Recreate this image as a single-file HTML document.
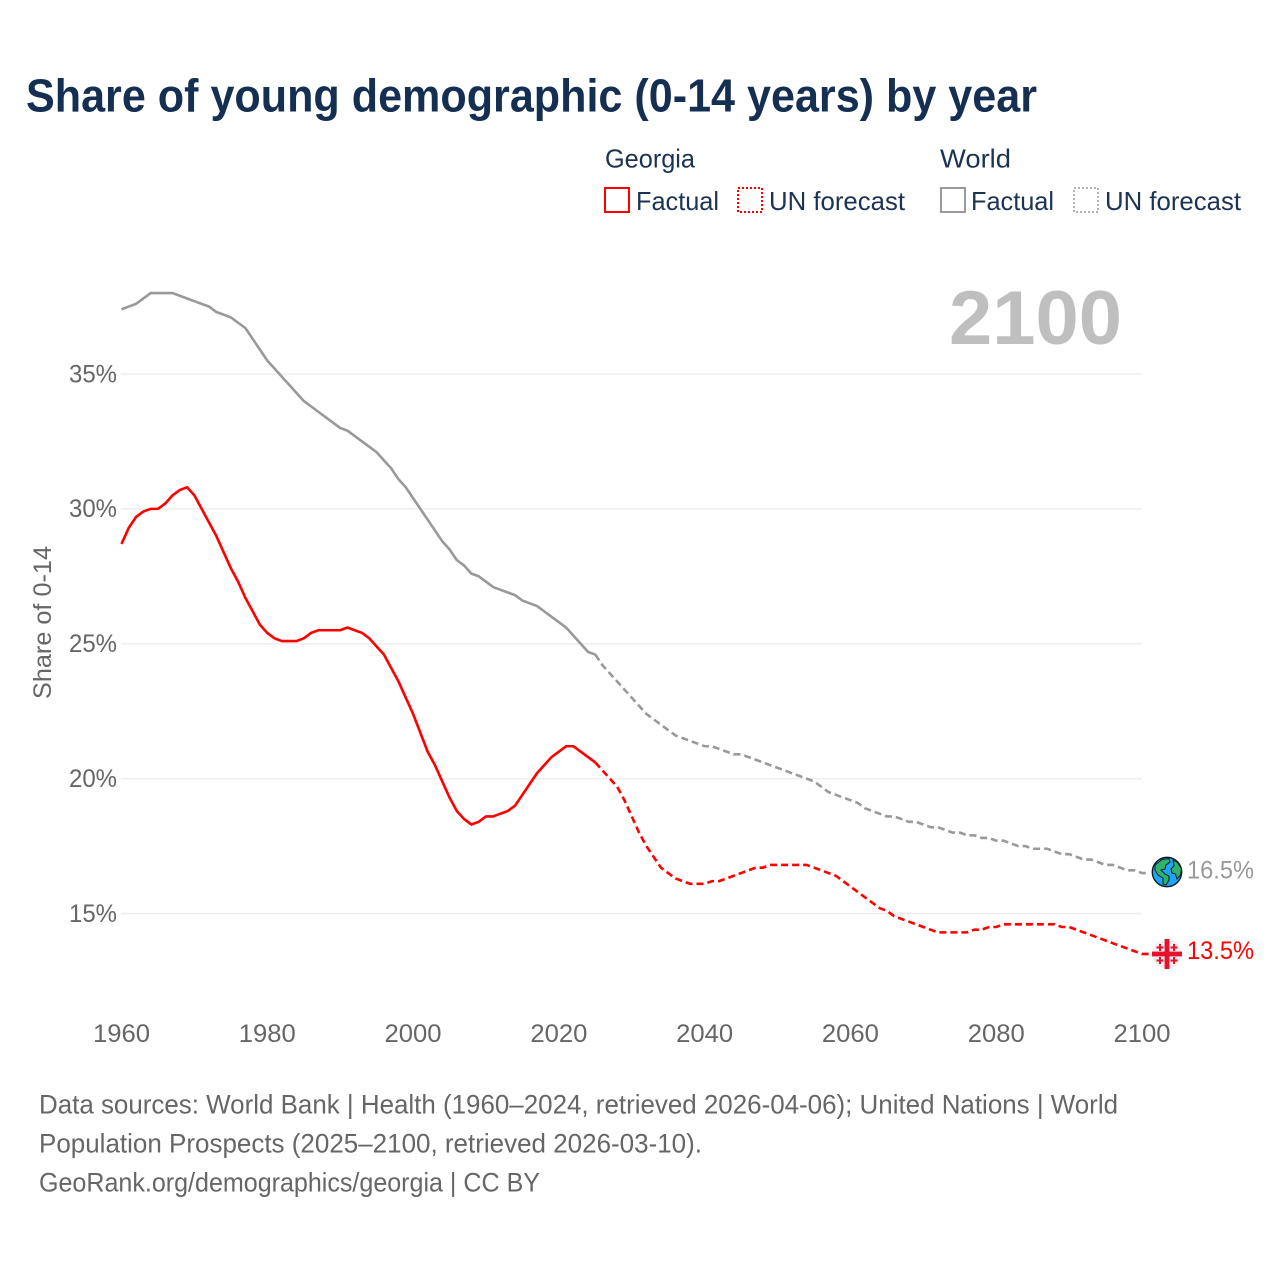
<!DOCTYPE html>
<html lang="en">
<head>
<meta charset="utf-8">
<title>Share of young demographic (0-14 years) by year</title>
<style>
html,body{margin:0;padding:0;background:#fff;width:1280px;height:1280px;overflow:hidden}
svg{display:block;font-family:"Liberation Sans",sans-serif}
</style>
</head>
<body>
<svg id="chart" xmlns="http://www.w3.org/2000/svg" width="1280" height="1280" viewBox="0 0 1280 1280">
  <rect width="1280" height="1280" fill="#fff"/>
  <text x="26" y="111.5" font-size="46" font-weight="700" fill="#152f52" textLength="1011" lengthAdjust="spacingAndGlyphs">Share of young demographic (0-14 years) by year</text>

  <g font-size="26" fill="#1c3354">
    <text x="605" y="167.5" textLength="90" lengthAdjust="spacingAndGlyphs">Georgia</text>
    <text x="940" y="167.5" textLength="71" lengthAdjust="spacingAndGlyphs">World</text>
    <g>
      <rect x="605" y="188" width="24" height="24" fill="#fff" stroke="#f00" stroke-width="2"/>
      <text x="636" y="210" textLength="83" lengthAdjust="spacingAndGlyphs">Factual</text>
    </g>
    <g>
      <rect x="738" y="188" width="24" height="24" fill="#fff" stroke="#f00" stroke-width="2" stroke-dasharray="2 2"/>
      <text x="769" y="210" textLength="136" lengthAdjust="spacingAndGlyphs">UN forecast</text>
    </g>
    <g>
      <rect x="941" y="188" width="24" height="24" fill="#fff" stroke="#999" stroke-width="2"/>
      <text x="971" y="210" textLength="83" lengthAdjust="spacingAndGlyphs">Factual</text>
    </g>
    <g>
      <rect x="1074" y="188" width="24" height="24" fill="#fff" stroke="#999" stroke-width="1.5" stroke-dasharray="2 2"/>
      <text x="1105" y="210" textLength="136" lengthAdjust="spacingAndGlyphs">UN forecast</text>
    </g>
  </g>

  <g id="grid"></g>
  <g id="yticks" font-size="25" fill="#666"></g>
  <g id="xticks" font-size="25" fill="#666"></g>
  <text transform="translate(51 699) rotate(-90)" font-size="25" fill="#666" textLength="153" lengthAdjust="spacingAndGlyphs">Share of 0-14</text>

  <text x="949" y="344" font-size="76" font-weight="700" fill="#bfbfbf" textLength="173" lengthAdjust="spacingAndGlyphs">2100</text>

  <g id="series"></g>

  <g transform="translate(1167 872)">
    <circle r="14.7" fill="#1ea5f5" stroke="#0c1c22" stroke-width="1.4"/>
    <path d="M-12 -7 L-5 -12.5 L2 -13.5 L3 -10 L-1 -7 L-2 -3 L-6 -2 L-2 2 L2 4 L2 8 L-1 13 L-4 12 L-4 6 L-9 3 L-12 -2 Z" fill="#2fb36a" stroke="#0c1c22" stroke-width="1"/>
    <path d="M6 -12 L11 -9 L14.5 -3 L13.5 3 L10 7 L8.5 2 L5 1 L4 -3 L7 -6 Z" fill="#2fb36a" stroke="#0c1c22" stroke-width="1"/>
  </g>
  <g transform="translate(1167 954)">
    <circle r="14.7" fill="#eeeeee"/>
    <rect x="-2.4" y="-15" width="4.8" height="30" fill="#e8112d"/>
    <rect x="-15" y="-2.4" width="30" height="4.8" fill="#e8112d"/>
    <g fill="#e8112d">
      <path d="M-8 -10h2v2.5h2.5v2h-2.5v2.5h-2v-2.5h-2.5v-2h2.5z"/>
      <path d="M6 -10h2v2.5h2.5v2h-2.5v2.5h-2v-2.5h-2.5v-2h2.5z"/>
      <path d="M-8 3h2v2.5h2.5v2h-2.5v2.5h-2v-2.5h-2.5v-2h2.5z"/>
      <path d="M6 3h2v2.5h2.5v2h-2.5v2.5h-2v-2.5h-2.5v-2h2.5z"/>
    </g>
  </g>
  <text id="world-end" x="1187" y="878.5" font-size="25" fill="#999" textLength="67" lengthAdjust="spacingAndGlyphs"></text>
  <text id="georgia-end" x="1187" y="959" font-size="25" fill="#f00" textLength="67" lengthAdjust="spacingAndGlyphs"></text>

  <g font-size="27" fill="#666">
    <text x="39" y="1113.5" textLength="1079" lengthAdjust="spacingAndGlyphs">Data sources: World Bank | Health (1960–2024, retrieved 2026-04-06); United Nations | World</text>
    <text x="39" y="1152.5" textLength="663" lengthAdjust="spacingAndGlyphs">Population Prospects (2025–2100, retrieved 2026-03-10).</text>
    <text x="39" y="1191.5" textLength="501" lengthAdjust="spacingAndGlyphs">GeoRank.org/demographics/georgia | CC BY</text>
  </g>
</svg>
<script>
const xTickYears = [1960, 1980, 2000, 2020, 2040, 2060, 2080, 2100];
const yTickValues = [15, 20, 25, 30, 35];
const factualStartYear = 1960;
const forecastStartYear = 2025;
const georgiaFactual = [28.7,29.3,29.7,29.9,30.0,30.0,30.2,30.5,30.7,30.8,30.5,30.0,29.5,29.0,28.4,27.8,27.3,26.7,26.2,25.7,25.4,25.2,25.1,25.1,25.1,25.2,25.4,25.5,25.5,25.5,25.5,25.6,25.5,25.4,25.2,24.9,24.6,24.1,23.6,23.0,22.4,21.7,21.0,20.5,19.9,19.3,18.8,18.5,18.3,18.4,18.6,18.6,18.7,18.8,19.0,19.4,19.8,20.2,20.5,20.8,21.0,21.2,21.2,21.0,20.8,20.6];
const georgiaForecast = [20.6,20.3,20.0,19.7,19.2,18.6,18.0,17.5,17.1,16.7,16.5,16.3,16.2,16.1,16.1,16.1,16.2,16.2,16.3,16.4,16.5,16.6,16.7,16.7,16.8,16.8,16.8,16.8,16.8,16.8,16.7,16.6,16.5,16.4,16.2,16.0,15.8,15.6,15.4,15.2,15.1,14.9,14.8,14.7,14.6,14.5,14.4,14.3,14.3,14.3,14.3,14.3,14.4,14.4,14.5,14.5,14.6,14.6,14.6,14.6,14.6,14.6,14.6,14.6,14.5,14.5,14.4,14.3,14.2,14.1,14.0,13.9,13.8,13.7,13.6,13.5,13.5];
const worldFactual = [37.4,37.5,37.6,37.8,38.0,38.0,38.0,38.0,37.9,37.8,37.7,37.6,37.5,37.3,37.2,37.1,36.9,36.7,36.3,35.9,35.5,35.2,34.9,34.6,34.3,34.0,33.8,33.6,33.4,33.2,33.0,32.9,32.7,32.5,32.3,32.1,31.8,31.5,31.1,30.8,30.4,30.0,29.6,29.2,28.8,28.5,28.1,27.9,27.6,27.5,27.3,27.1,27.0,26.9,26.8,26.6,26.5,26.4,26.2,26.0,25.8,25.6,25.3,25.0,24.7,24.6];
const worldForecast = [24.6,24.2,23.9,23.6,23.3,23.0,22.7,22.4,22.2,22.0,21.8,21.6,21.5,21.4,21.3,21.2,21.2,21.1,21.0,20.9,20.9,20.8,20.7,20.6,20.5,20.4,20.3,20.2,20.1,20.0,19.9,19.7,19.5,19.4,19.3,19.2,19.1,18.9,18.8,18.7,18.6,18.6,18.5,18.4,18.4,18.3,18.2,18.2,18.1,18.0,18.0,17.9,17.9,17.8,17.8,17.7,17.7,17.6,17.5,17.5,17.4,17.4,17.4,17.3,17.2,17.2,17.1,17.0,17.0,16.9,16.8,16.8,16.7,16.6,16.6,16.5,16.5];

const NS = 'http://www.w3.org/2000/svg';
function xScale(year) { return 121.5 + (year - 1960) * (1142 - 121.5) / 140; }
function yScale(value) { return 913.5 - (value - 15) * (913.5 - 374) / 20; }

const grid = document.getElementById('grid');
const yticks = document.getElementById('yticks');
yTickValues.forEach(function (v) {
  const line = document.createElementNS(NS, 'line');
  
  
  line.setAttribute('x1', 121);
  line.setAttribute('x2', 1142);
  line.setAttribute('y1', yScale(v));
  line.setAttribute('y2', yScale(v));
  line.setAttribute('stroke', '#eeeeee');
  line.setAttribute('stroke-width', '1.5');
  grid.appendChild(line);
  const label = document.createElementNS(NS, 'text');
  
  
  label.setAttribute('x', 69);
  label.setAttribute('y', yScale(v) + 8.3);
  label.setAttribute('textLength', 48);
  label.setAttribute('lengthAdjust', 'spacingAndGlyphs');
  label.textContent = v + '%';
  yticks.appendChild(label);
});

const xticks = document.getElementById('xticks');
xTickYears.forEach(function (y) {
  const label = document.createElementNS(NS, 'text');
  
  
  label.setAttribute('x', xScale(y) - 28.5);
  label.setAttribute('y', 1042);
  label.setAttribute('textLength', 57);
  label.setAttribute('lengthAdjust', 'spacingAndGlyphs');
  label.textContent = y;
  xticks.appendChild(label);
});

function pathFor(values, startYear) {
  return values.map(function (v, i) {
    return (i ? 'L' : 'M') + xScale(startYear + i).toFixed(2) + ' ' + yScale(v).toFixed(2);
  }).join(' ');
}

const seriesGroup = document.getElementById('series');

const worldForecastLine = document.createElementNS(NS, 'path');


worldForecastLine.setAttribute('d', pathFor(worldForecast, forecastStartYear));
worldForecastLine.setAttribute('fill', 'none');
worldForecastLine.setAttribute('stroke', '#999');
worldForecastLine.setAttribute('stroke-width', '2.6');
worldForecastLine.setAttribute('stroke-dasharray', '7 4');
seriesGroup.appendChild(worldForecastLine);

const worldFactualLine = document.createElementNS(NS, 'path');


worldFactualLine.setAttribute('d', pathFor(worldFactual, factualStartYear));
worldFactualLine.setAttribute('fill', 'none');
worldFactualLine.setAttribute('stroke', '#999');
worldFactualLine.setAttribute('stroke-width', '2.6');
seriesGroup.appendChild(worldFactualLine);

const georgiaForecastLine = document.createElementNS(NS, 'path');


georgiaForecastLine.setAttribute('d', pathFor(georgiaForecast, forecastStartYear));
georgiaForecastLine.setAttribute('fill', 'none');
georgiaForecastLine.setAttribute('stroke', '#f00');
georgiaForecastLine.setAttribute('stroke-width', '2.6');
georgiaForecastLine.setAttribute('stroke-dasharray', '7 4');
seriesGroup.appendChild(georgiaForecastLine);

const georgiaFactualLine = document.createElementNS(NS, 'path');


georgiaFactualLine.setAttribute('d', pathFor(georgiaFactual, factualStartYear));
georgiaFactualLine.setAttribute('fill', 'none');
georgiaFactualLine.setAttribute('stroke', '#f00');
georgiaFactualLine.setAttribute('stroke-width', '2.6');
seriesGroup.appendChild(georgiaFactualLine);

document.getElementById('world-end').textContent = worldForecast[worldForecast.length - 1].toFixed(1) + '%';
document.getElementById('georgia-end').textContent = georgiaForecast[georgiaForecast.length - 1].toFixed(1) + '%';
</script>
</body>
</html>
